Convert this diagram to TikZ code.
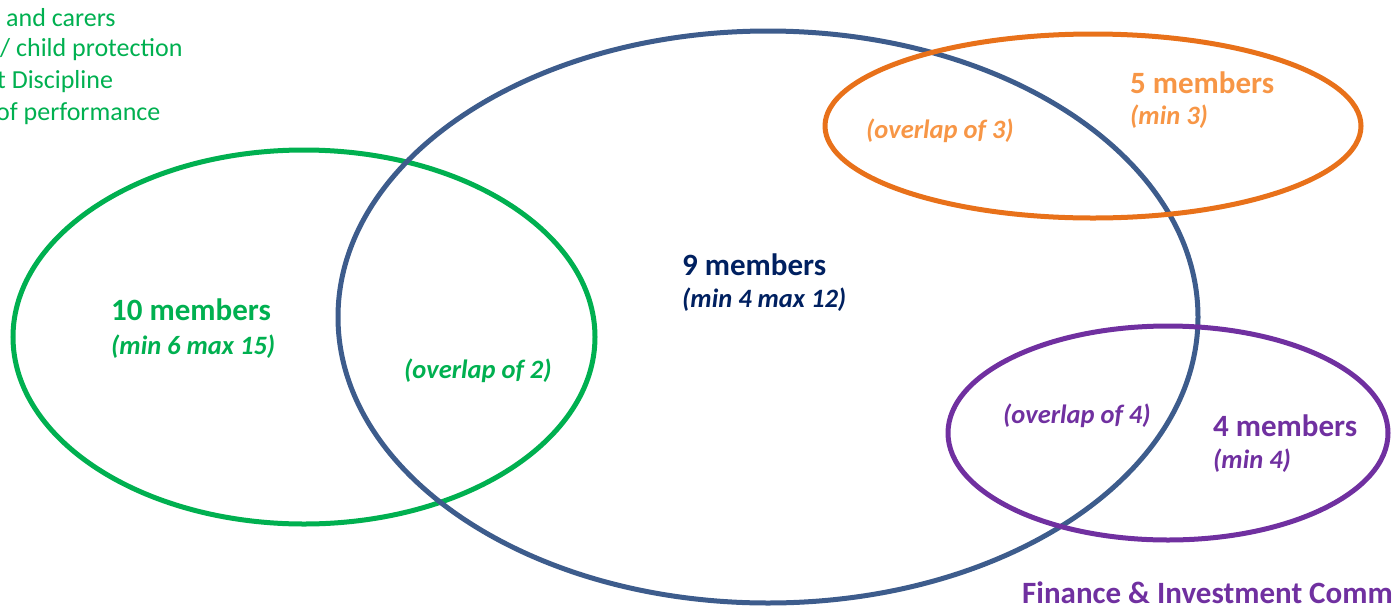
\documentclass[tikz,border=0pt]{standalone}
\usepackage{fontspec}
\setmainfont{Carlito}
\definecolor{cgreen}{HTML}{00B050}
\definecolor{cblue}{HTML}{3D5C8C}
\definecolor{cnavy}{HTML}{002060}
\definecolor{corange}{HTML}{E8711A}
\definecolor{clorange}{HTML}{F79646}
\definecolor{cpurple}{HTML}{7030A0}
\tikzset{
  ring/.style={line width=5pt},
  big/.style={font=\fontsize{31}{36}\selectfont\bfseries, inner sep=0pt, anchor=west},
  small/.style={font=\fontsize{26.5}{31}\selectfont\bfseries\itshape, inner sep=0pt, anchor=west},
  note/.style={font=\fontsize{26}{30}\selectfont, inner sep=0pt, anchor=west, text=cgreen},
}
\begin{document}
\begin{tikzpicture}[x=1pt,y=-1pt]
\useasboundingbox (0,0) rectangle (1393,606);
\clip (0,0) rectangle (1393,606);
% ellipses
\draw[ring, cgreen] (304,337) ellipse [x radius=291, y radius=187];
\draw[ring, cblue] (768,317) ellipse [x radius=430, y radius=286];
\draw[ring, corange] (1093,126) ellipse [x radius=268, y radius=92];
\draw[ring, cpurple] (1168,433) ellipse [x radius=220, y radius=107];
% top-left notes
\node[note] (n1) at (6,18) {and carers};
\node[note] (n2) at (0,50) {/ child protection};
\node[note] (n3) at (-3,82) {t Discipline};
\node[note] (n4) at (-4,114) {of performance};
% labels
\node[big, text=cgreen] (g1) at (111,310) {10 members};
\node[small, text=cgreen] (g2) at (111,347) {(min 6 max 15)};
\node[small, text=cgreen] (o2) at (404,371) {(overlap of 2)};
\node[big, text=cnavy] (b1) at (682,265) {9 members};
\node[small, text=cnavy] (b2) at (682,300) {(min 4 max 12)};
\node[small, text=clorange] (o3) at (866,131) {(overlap of 3)};
\node[big, text=clorange] (r1) at (1130,83) {5 members};
\node[small, text=clorange] (r2) at (1130,117) {(min 3)};
\node[small, text=cpurple] (o4) at (1003,416) {(overlap of 4)};
\node[big, text=cpurple] (p1) at (1213,426) {4 members};
\node[small, text=cpurple] (p2) at (1213,461) {(min 4)};
\node[big, text=cpurple] (fin) at (1022,593) {Finance \& Investment Committee};
\end{tikzpicture}
\end{document}
